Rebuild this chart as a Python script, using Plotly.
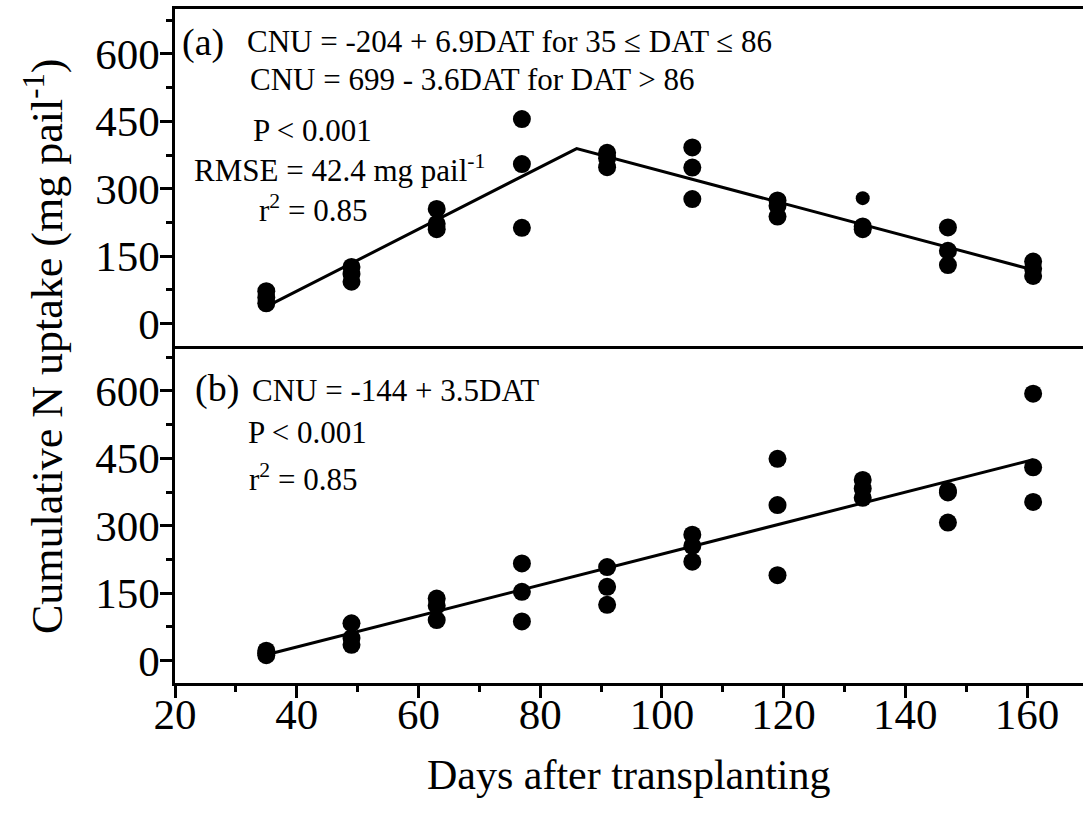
import plotly.graph_objects as go

# Sampling days (days after transplanting)
days = [35, 49, 63, 77, 91, 105, 119, 133, 147, 161]

# (a) cumulative N uptake, three replicates per sampling day (mg pail-1)
uptake_a = [
    [72, 58, 45],
    [126, 110, 93],
    [255, 222, 210],
    [455, 355, 213],
    [380, 368, 348],
    [392, 347, 277],
    [274, 262, 238],
    [279, 216, 210],
    [214, 162, 130],
    [138, 122, 106],
]

# (b) cumulative N uptake, three replicates per sampling day (mg pail-1)
uptake_b = [
    [22, 16, 12],
    [83, 50, 35],
    [138, 122, 90],
    [216, 153, 87],
    [208, 164, 124],
    [280, 255, 220],
    [449, 346, 190],
    [402, 383, 362],
    [378, 374, 307],
    [594, 430, 353],
]

# Fitted lines
fit_a_x = [35, 86, 161]
fit_a_y = [37.5, 389.4, 119.4]
fit_b_x = [35, 161]
fit_b_y = [13, 447]

y_ticks = [0, 150, 300, 450, 600]
x_ticks = [20, 40, 60, 80, 100, 120, 140, 160]


def flatten(groups):
    xs, ys = [], []
    for d, reps in zip(days, groups):
        for v in reps:
            xs.append(d)
            ys.append(v)
    return xs, ys


FONT = "Liberation Serif"
W, H = 1083, 816
ML, MR, MT, MB = 175, 0, 9, 133
PW, PH = W - ML - MR, H - MT - MB

fig = go.Figure()

xa, ya = flatten(uptake_a)
xb, yb = flatten(uptake_b)

# one replicate at day 133 in (a) is plotted with a smaller dot
sizes_a = [14 if (d == 133 and v == max(r)) else 18
           for d, r in zip(days, uptake_a) for v in r]

fig.add_trace(go.Scatter(x=fit_a_x, y=fit_a_y, mode="lines",
                         line=dict(color="black", width=3),
                         xaxis="x2", yaxis="y2", showlegend=False))
fig.add_trace(go.Scatter(x=xa, y=ya, mode="markers",
                         marker=dict(color="black", size=sizes_a, opacity=1,
                                     line=dict(width=0)),
                         xaxis="x2", yaxis="y2", showlegend=False))
fig.add_trace(go.Scatter(x=fit_b_x, y=fit_b_y, mode="lines",
                         line=dict(color="black", width=3),
                         xaxis="x", yaxis="y", showlegend=False))
fig.add_trace(go.Scatter(x=xb, y=yb, mode="markers",
                         marker=dict(color="black", size=18, opacity=1,
                                     line=dict(width=0)),
                         xaxis="x", yaxis="y", showlegend=False))

x_range = [20, 20 + PW / 6.086]
y_range = [-50, 700]

tickfont = dict(family=FONT, size=43, color="black")

common_y = dict(
    range=y_range, tickmode="array", tickvals=y_ticks,
    ticks="outside", ticklen=12, tickwidth=2.5, tickcolor="black",
    showline=True, linecolor="black", linewidth=2.5, mirror=False,
    showgrid=False, zeroline=False, tickfont=tickfont,
    ticklabelstandoff=-8,
    minor=dict(tickmode="linear", tick0=0, dtick=75, ticks="outside",
               ticklen=6, tickwidth=2.5, tickcolor="black", showgrid=False),
)

fig.update_layout(
    width=W, height=H,
    margin=dict(l=ML, r=MR, t=MT, b=MB),
    paper_bgcolor="white", plot_bgcolor="white",
    font=dict(family=FONT, color="black"),
    xaxis=dict(
        domain=[0, 1], anchor="y", range=x_range,
        tickmode="array", tickvals=x_ticks,
        ticks="outside", ticklen=12, tickwidth=2.5, tickcolor="black",
        showline=True, linecolor="black", linewidth=2.5, mirror=False,
        showgrid=False, zeroline=False, tickfont=tickfont,
        ticklabelstandoff=-20,
        minor=dict(tickmode="linear", tick0=0, dtick=10, ticks="outside",
                   ticklen=6, tickwidth=2.5, tickcolor="black", showgrid=False),
    ),
    xaxis2=dict(
        domain=[0, 1], anchor="y2", range=x_range, matches="x",
        showticklabels=False, ticks="",
        showline=True, linecolor="black", linewidth=2.5, mirror=True,
        showgrid=False, zeroline=False,
    ),
    yaxis=dict(domain=[0, 0.5], anchor="x", **common_y),
    yaxis2=dict(domain=[0.5, 1], anchor="x2", **common_y),
)


def px_x(px):
    return (px - ML) / PW


def px_y(py):
    return (H - MB - py) / PH


def label(text, px, py, size):
    fig.add_annotation(
        text=text, xref="paper", yref="paper",
        x=px_x(px), y=px_y(py), xanchor="left", yanchor="middle",
        showarrow=False, font=dict(family=FONT, size=size, color="black"),
    )


# Panel (a) statistics
label("(a)", 180, 43, 38)
label("CNU = -204 + 6.9DAT for 35 \u2264 DAT \u2264 86", 245, 42, 31)
label("CNU = 699 - 3.6DAT for DAT > 86", 248, 79, 31)
label("P < 0.001", 251, 130, 31)
label("RMSE = 42.4 mg pail<sup>-1</sup>", 192, 168, 31)
label("r<sup>2</sup> = 0.85", 257, 208, 31)

# Panel (b) statistics
label("(b)", 193, 389, 38)
label("CNU = -144 + 3.5DAT", 250, 391, 31)
label("P < 0.001", 246, 432, 31)
label("r<sup>2</sup> = 0.85", 247, 477, 31)

# Axis titles
fig.add_annotation(
    text="Cumulative N uptake (mg pail<sup>-1</sup>)",
    xref="paper", yref="paper", x=px_x(44), y=0.5,
    xanchor="center", yanchor="middle", textangle=-90, showarrow=False,
    font=dict(family=FONT, size=44, color="black"),
)
fig.add_annotation(
    text="Days after transplanting",
    xref="paper", yref="paper", x=0.5, y=px_y(775),
    xanchor="center", yanchor="middle", showarrow=False,
    font=dict(family=FONT, size=42, color="black"),
)

fig.write_html("out.html")
